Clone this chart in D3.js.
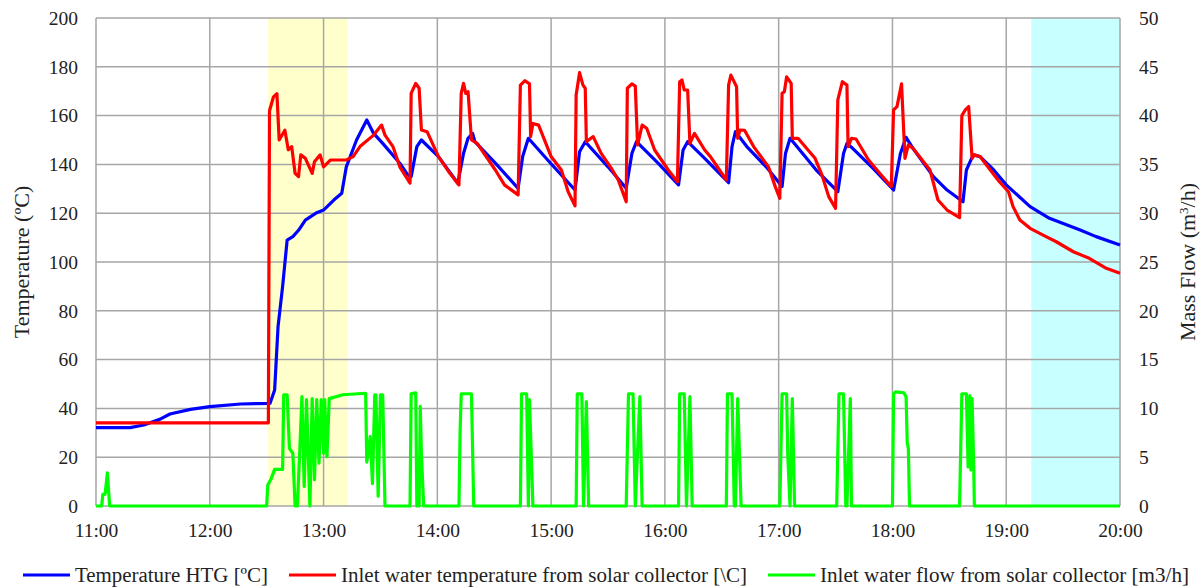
<!DOCTYPE html>
<html>
<head>
<meta charset="utf-8">
<script src="https://cdn.jsdelivr.net/npm/d3@7/dist/d3.min.js"></script>
<style>
  html, body { margin: 0; padding: 0; background: #fff; }
  svg { display: block; }
  svg text { font-family: "Liberation Serif", "Times New Roman", serif; }
</style>
</head>
<body>
<svg id="chart" width="1201" height="587"></svg>
<script>
// Time of day in decimal hours, temperatures in °C, flow in m3/h
const hourTicks = [11, 12, 13, 14, 15, 16, 17, 18, 19, 20];
const tempTicks = [0, 20, 40, 60, 80, 100, 120, 140, 160, 180, 200];
const flowTicks = [0, 5, 10, 15, 20, 25, 30, 35, 40, 45, 50];

// Shaded periods: start-up and cool-down
const startupBand = [12.51, 13.21];
const cooldownBand = [19.22, 20.0];

const seriesNames = [
  "Temperature HTG [ºC]",
  "Inlet water temperature from solar collector [\\C]",
  "Inlet water flow from solar collector [m3/h]"
];

const htgTime = [11.00, 11.30, 11.42, 11.56, 11.65, 11.83, 12.00, 12.27, 12.53, 12.57, 12.60, 12.64, 12.68, 12.73, 12.78, 12.84, 12.94, 13.00, 13.09, 13.16, 13.20, 13.29, 13.38, 13.44, 13.52, 13.67, 13.74, 13.77, 13.82, 13.86, 14.01, 14.18, 14.23, 14.27, 14.31, 14.33, 14.51, 14.71, 14.75, 14.80, 14.97, 15.21, 15.25, 15.30, 15.50, 15.66, 15.71, 15.75, 15.94, 16.12, 16.16, 16.20, 16.35, 16.56, 16.59, 16.62, 16.72, 16.89, 17.03, 17.06, 17.10, 17.16, 17.33, 17.52, 17.57, 17.60, 17.65, 17.83, 18.01, 18.07, 18.12, 18.18, 18.36, 18.48, 18.62, 18.65, 18.71, 18.77, 18.89, 19.00, 19.21, 19.38, 19.65, 19.79, 20.00];
const htgTemp = [32.1, 32.1, 33.2, 35.5, 37.7, 39.6, 40.7, 41.8, 42.1, 47.5, 73.5, 89.9, 109.0, 110.4, 113.0, 117.2, 120.2, 121.3, 125.4, 128.2, 139.0, 150.0, 158.2, 152.7, 148.6, 140.5, 135.7, 135.0, 147.3, 150.0, 143.2, 132.3, 144.5, 150.7, 152.7, 149.3, 140.5, 130.2, 143.2, 150.7, 141.8, 129.5, 145.2, 149.3, 139.0, 130.2, 144.5, 149.3, 140.5, 131.6, 145.9, 149.3, 142.5, 132.5, 147.3, 153.4, 147.3, 139.0, 130.9, 144.5, 150.7, 147.3, 137.7, 128.8, 144.5, 148.6, 146.6, 138.4, 129.5, 144.5, 151.1, 146.6, 135.0, 129.5, 124.7, 137.7, 143.9, 143.2, 137.7, 131.6, 122.7, 117.9, 113.1, 110.4, 107.0];

const inletTime = [11.00, 12.515, 12.525, 12.56, 12.59, 12.61, 12.66, 12.69, 12.72, 12.75, 12.78, 12.80, 12.84, 12.90, 12.92, 12.97, 13.00, 13.06, 13.20, 13.26, 13.32, 13.44, 13.51, 13.54, 13.61, 13.67, 13.76, 13.77, 13.81, 13.84, 13.86, 13.91, 14.01, 14.10, 14.19, 14.21, 14.23, 14.25, 14.27, 14.30, 14.35, 14.51, 14.59, 14.71, 14.73, 14.77, 14.81, 14.82, 14.84, 14.89, 15.00, 15.09, 15.15, 15.21, 15.22, 15.25, 15.28, 15.30, 15.31, 15.37, 15.44, 15.53, 15.59, 15.66, 15.67, 15.71, 15.74, 15.76, 15.80, 15.84, 15.91, 16.03, 16.11, 16.13, 16.15, 16.17, 16.20, 16.22, 16.26, 16.35, 16.40, 16.48, 16.54, 16.56, 16.58, 16.63, 16.64, 16.66, 16.70, 16.78, 16.91, 16.97, 17.01, 17.03, 17.05, 17.07, 17.11, 17.12, 17.17, 17.32, 17.38, 17.44, 17.50, 17.52, 17.56, 17.60, 17.61, 17.64, 17.68, 17.79, 17.89, 17.99, 18.01, 18.04, 18.08, 18.10, 18.11, 18.14, 18.18, 18.33, 18.40, 18.48, 18.59, 18.61, 18.64, 18.67, 18.70, 18.72, 18.77, 18.86, 18.94, 19.02, 19.06, 19.12, 19.21, 19.35, 19.44, 19.59, 19.73, 19.88, 20.00];
const inletTemp = [34.1, 34.1, 162.0, 167.7, 169.0, 150.0, 154.0, 146.0, 147.3, 136.3, 135.0, 143.9, 142.5, 136.3, 141.1, 143.9, 139.0, 141.8, 141.8, 143.2, 147.3, 152.0, 156.1, 152.0, 147.3, 139.0, 132.3, 169.1, 173.2, 171.2, 154.1, 153.4, 143.2, 137.0, 131.6, 169.1, 173.2, 169.1, 169.8, 150.0, 148.6, 137.7, 131.6, 127.5, 172.5, 174.3, 173.0, 151.4, 156.8, 156.1, 143.2, 137.7, 128.8, 123.0, 168.4, 177.6, 172.5, 171.2, 149.3, 151.4, 144.5, 138.4, 133.6, 124.7, 171.2, 173.0, 172.1, 148.0, 156.1, 154.8, 145.9, 137.7, 132.9, 173.9, 174.6, 170.5, 170.5, 148.6, 152.7, 145.9, 143.2, 137.7, 133.6, 172.5, 176.6, 171.8, 150.7, 154.1, 154.0, 147.3, 139.0, 130.9, 126.1, 169.1, 169.8, 175.9, 173.2, 150.7, 150.7, 142.5, 135.7, 126.8, 122.0, 166.4, 173.9, 172.5, 147.3, 150.7, 150.4, 141.8, 136.3, 130.9, 162.3, 163.7, 173.0, 152.7, 142.5, 148.0, 146.6, 137.7, 125.4, 121.3, 118.2, 160.0, 162.3, 163.7, 142.5, 143.9, 143.2, 137.7, 132.9, 128.8, 122.7, 117.2, 113.8, 110.4, 108.3, 104.2, 101.5, 97.4, 95.4];

const flowTime = [11.00, 11.05, 11.06, 11.08, 11.10, 11.12, 12.50, 12.51, 12.54, 12.57, 12.64, 12.65, 12.68, 12.70, 12.73, 12.75, 12.77, 12.79, 12.81, 12.83, 12.85, 12.88, 12.90, 12.92, 12.94, 12.96, 12.98, 13.00, 13.01, 13.03, 13.05, 13.17, 13.37, 13.38, 13.41, 13.43, 13.45, 13.46, 13.48, 13.50, 13.52, 13.54,
  13.76, 13.77, 13.81, 13.82, 13.84, 13.85, 13.86, 13.88,
  14.19, 14.20, 14.21, 14.30, 14.32,
  14.73, 14.74, 14.785, 14.80, 14.81, 14.84,
  15.22, 15.23, 15.27, 15.285, 15.31, 15.33,
  15.66, 15.68, 15.72, 15.74, 15.78, 15.80,
  16.12, 16.13, 16.17, 16.19, 16.22, 16.24,
  16.54, 16.55, 16.59, 16.61, 16.62, 16.64, 16.67,
  17.01, 17.03, 17.07, 17.08, 17.10, 17.12, 17.14,
  17.51, 17.53, 17.57, 17.59, 17.60, 17.63, 17.64,
  18.00, 18.01, 18.03, 18.10, 18.12, 18.13, 18.14, 18.15,
  18.59, 18.61, 18.65, 18.665, 18.68, 18.69, 18.70, 18.715, 18.72,
  20.00];
const flowRate = [0, 0, 1.2, 1.2, 3.4, 0, 0, 2.15, 2.8, 3.75, 3.75, 11.4, 11.4, 5.9, 5.4, 0, 0, 5.4, 11.2, 2.0, 10.9, 0, 11.0, 2.7, 10.9, 4.4, 10.9, 5.4, 10.9, 5.05, 11.0, 11.4, 11.55, 4.5, 7.1, 2.3, 11.4, 11.4, 1.0, 11.4, 11.4, 0,
  0, 11.5, 11.6, 0, 0, 10.2, 5.4, 0,
  0, 7.6, 11.5, 11.5, 0,
  0, 11.5, 11.5, 0, 10.9, 0,
  0, 11.5, 11.5, 0, 10.7, 0,
  0, 11.5, 11.5, 0, 11.2, 0,
  0, 11.5, 11.5, 0, 11.2, 0,
  0, 11.5, 11.5, 0, 0, 11.0, 0,
  0, 11.5, 11.5, 5.2, 0, 11.0, 0,
  0, 11.5, 11.5, 0, 0, 11.0, 0,
  0, 11.5, 11.7, 11.6, 11.2, 6.5, 5.9, 0,
  0, 11.5, 11.5, 4.0, 11.3, 3.7, 11.0, 3.7, 0,
  0];

const serif = "'Liberation Serif', 'Times New Roman', serif";
const svg = d3.select("#chart");
const plot = { left: 96, right: 1120, top: 18, bottom: 506 };

const x = d3.scaleLinear().domain([11, 20]).range([plot.left, plot.right]);
const yTemp = d3.scaleLinear().domain([0, 200]).range([plot.bottom, plot.top]);
const yFlow = d3.scaleLinear().domain([0, 50]).range([plot.bottom, plot.top]);

const gridColor = "#a6a6a6";
const textColor = "#222";

// Shaded periods
[[startupBand, "#ffffcc"], [cooldownBand, "#c8ffff"]].forEach(([band, fill]) => {
  svg.append("rect")
    .attr("x", x(band[0]))
    .attr("y", plot.top)
    .attr("width", x(band[1]) - x(band[0]))
    .attr("height", plot.bottom - plot.top)
    .attr("fill", fill);
});

// Grid lines
svg.append("g")
  .selectAll("line")
  .data(tempTicks)
  .join("line")
  .attr("x1", plot.left).attr("x2", plot.right)
  .attr("y1", d => yTemp(d)).attr("y2", d => yTemp(d))
  .attr("stroke", gridColor).attr("stroke-width", 1.5);

svg.append("g")
  .selectAll("line")
  .data(hourTicks)
  .join("line")
  .attr("x1", d => x(d)).attr("x2", d => x(d))
  .attr("y1", plot.top).attr("y2", plot.bottom)
  .attr("stroke", gridColor).attr("stroke-width", 1.5);

// Axes (labels only; lines come from the grid)
const fmtHour = h => d3.format("02d")(h) + ":00";

const xAxis = svg.append("g")
  .attr("transform", `translate(0,${plot.bottom})`)
  .call(d3.axisBottom(x).tickValues(hourTicks).tickFormat(fmtHour).tickSize(0).tickPadding(17));

const yAxisL = svg.append("g")
  .attr("transform", `translate(${plot.left},0)`)
  .call(d3.axisLeft(yTemp).tickValues(tempTicks).tickSize(0).tickPadding(18));

const yAxisR = svg.append("g")
  .attr("transform", `translate(${plot.right},0)`)
  .call(d3.axisRight(yFlow).tickValues(flowTicks).tickSize(0).tickPadding(19));

[xAxis, yAxisL, yAxisR].forEach(g => {
  g.attr("font-family", null).attr("font-size", null);
  g.select(".domain").remove();
  g.selectAll("text")
    .style("font-family", serif)
    .style("font-size", "19.5px")
    .attr("fill", textColor);
});

// Axis titles
svg.append("text")
  .attr("transform", `translate(29,${(plot.top + plot.bottom) / 2}) rotate(-90)`)
  .attr("text-anchor", "middle")
  .style("font-size", "22px")
  .attr("fill", textColor)
  .text("Temperature (ºC)");

const rightTitle = svg.append("text")
  .attr("transform", `translate(1195,${(plot.top + plot.bottom) / 2}) rotate(-90)`)
  .attr("text-anchor", "middle")
  .style("font-size", "22px")
  .attr("fill", textColor);
rightTitle.append("tspan").text("Mass Flow (m");
rightTitle.append("tspan").attr("baseline-shift", "super").style("font-size", "13px").text("3");
rightTitle.append("tspan").text("/h)");

// Series lines
const zip = (t, v) => t.map((d, i) => [d, v[i]]);

const tempLine = d3.line().x(d => x(d[0])).y(d => yTemp(d[1]));
const flowLine = d3.line().x(d => x(d[0])).y(d => yFlow(d[1]));

const seriesColors = ["#0000ff", "#ff0000", "#00ff00"];

svg.append("path")
  .datum(zip(htgTime, htgTemp))
  .attr("d", tempLine)
  .attr("fill", "none").attr("stroke", seriesColors[0])
  .attr("stroke-width", 3.2).attr("stroke-linejoin", "round");

svg.append("path")
  .datum(zip(inletTime, inletTemp))
  .attr("d", tempLine)
  .attr("fill", "none").attr("stroke", seriesColors[1])
  .attr("stroke-width", 3.2).attr("stroke-linejoin", "round");

svg.append("path")
  .datum(zip(flowTime, flowRate))
  .attr("d", flowLine)
  .attr("fill", "none").attr("stroke", seriesColors[2])
  .attr("stroke-width", 3.2).attr("stroke-linejoin", "round");

// Legend: swatch start and label run width for each entry
const legendX = [23, 289, 768];
const legendTextWidth = [193, 406, 369];
const legend = svg.append("g").attr("transform", "translate(0,575)");
seriesNames.forEach((name, i) => {
  legend.append("line")
    .attr("x1", legendX[i]).attr("x2", legendX[i] + 47)
    .attr("y1", 0).attr("y2", 0)
    .attr("stroke", seriesColors[i]).attr("stroke-width", 3.2);
  legend.append("text")
    .attr("x", legendX[i] + 52).attr("y", 7)
    .attr("textLength", legendTextWidth[i])
    .attr("lengthAdjust", "spacingAndGlyphs")
    .style("font-size", "20.5px")
    .attr("fill", textColor)
    .text(name);
});
</script>
</body>
</html>
